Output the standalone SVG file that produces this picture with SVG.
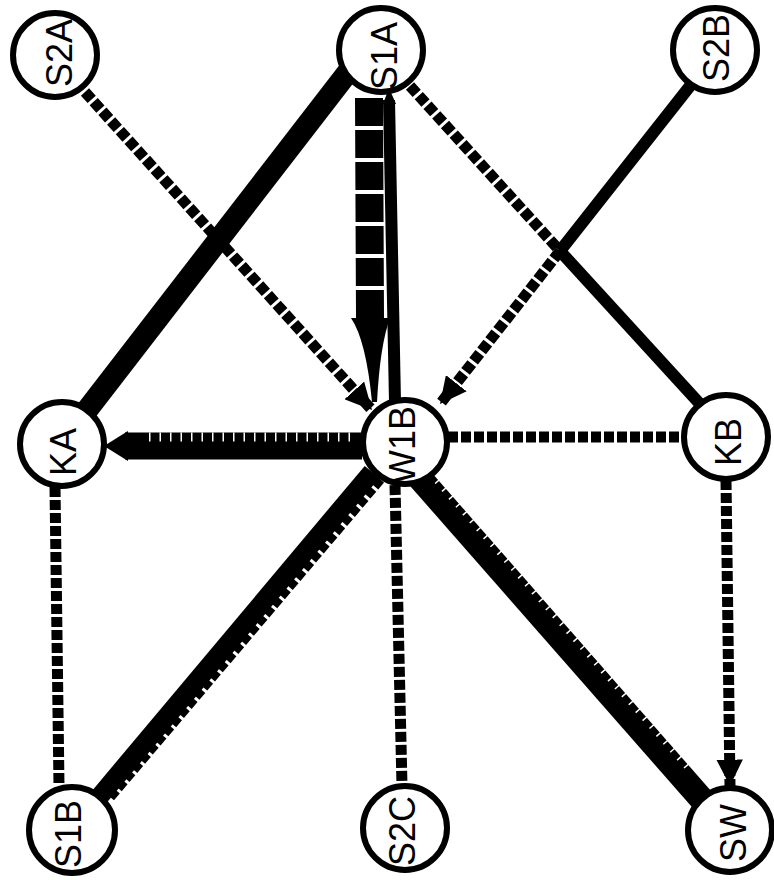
<svg xmlns="http://www.w3.org/2000/svg" width="774" height="880" viewBox="0 0 774 880">
<style>
.node circle{fill:#fff;stroke:#000;stroke-width:6}
.node text{font-family:"Liberation Sans",Arial,sans-serif;font-size:36px;fill:#000;text-anchor:middle;dominant-baseline:central}
.e{fill:none;stroke:#000;stroke-linecap:butt}
.d{stroke-width:11;stroke-dasharray:10 3}
.s{stroke-width:12}
.tick{fill:none;stroke:#fff;stroke-width:9;stroke-dasharray:1.5 9}
</style>
<defs>
<marker id="ah" viewBox="0 0 10 10" refX="10" refY="5" markerWidth="2.4" markerHeight="2.4" orient="auto" markerUnits="strokeWidth">
<path d="M0,0 L10,5 L0,10 Z" fill="#000"/>
</marker>
</defs>
<rect width="774" height="880" fill="#fff"/>
<g id="connectors">
<!-- S2A -> WIB -->
<path class="e d" d="M85,92 L372,410" marker-end="url(#ah)"/>
<!-- S1A - KA thick solid -->
<path class="e" stroke-width="22" d="M348,72 L84,414"/>
<!-- S1A -> WIB big dashed with arrowhead -->
<path class="e" stroke-width="28" stroke-dasharray="28 4" d="M369,98 L370,318"/>
<path d="M351,318 L390,318 Q380,345 377,402 L372,402 Q366,340 351,318 Z" fill="#000"/>
<!-- WIB -> S1A solid -->
<path class="e s" d="M395,402 L389,100"/>
<path d="M383,104 L389,88 L396,104 Z" fill="#000"/>
<!-- S1A - KB (dashed then solid) -->
<path class="e d" d="M410,86 L560,251"/>
<path class="e s" d="M560,251 L700,404"/>
<!-- S2B - WIB (solid then dashed) -->
<path class="e s" d="M690,86 L560,251"/>
<path class="e d" d="M560,251 L440,404" marker-end="url(#ah)"/>
<!-- WIB -> KA thick -->
<path class="e" stroke-width="27" d="M362,446 L125,446"/>
<path class="tick" d="M350,437 L140,437"/>
<path d="M128,431 L104,446 L128,461 Z" fill="#000"/>
<!-- WIB - KB dashed -->
<path class="e d" d="M448,437 L684,437"/>
<!-- KA - S1B dashed -->
<path class="e d" d="M55,487 L59,786"/>
<!-- WIB -> S1B thick + dashed -->
<path class="e" stroke-width="19" d="M372,472 L100,796"/>
<path class="e" stroke-width="8" stroke-dasharray="9 3" d="M381,480 L109,800"/>
<!-- WIB - S2C dashed -->
<path class="e d" d="M395,485 L402,786"/>
<!-- WIB -> SW thick -->
<path class="e" stroke-width="25" d="M418,476 L705,803"/>
<path class="tick" d="M438,480 L690,768"/>
<!-- KB -> SW dashed -->
<path class="e d" d="M726,480 L730,786" marker-end="url(#ah)"/>
</g>
<g id="S2A" class="node"><circle cx="55" cy="55" r="42"/><text transform="translate(59,53) rotate(-90)">S2A</text></g>
<g id="S1A" class="node"><circle cx="381" cy="50" r="42"/><text transform="translate(384,56) rotate(-90)">S1A</text></g>
<g id="S2B" class="node"><circle cx="715" cy="50" r="42"/><text transform="translate(716,48) rotate(-90)">S2B</text></g>
<g id="KA" class="node"><circle cx="62" cy="444" r="42"/><text transform="translate(63,452) rotate(-90)">KA</text></g>
<g id="W1B" class="node"><circle cx="405" cy="442" r="42"/><text transform="translate(402,445) rotate(-90)">W1B</text></g>
<g id="KB" class="node"><circle cx="726" cy="437" r="42"/><text transform="translate(728,442) rotate(-90)">KB</text></g>
<g id="S1B" class="node"><circle cx="72" cy="830" r="43"/><text transform="translate(68,834) rotate(-90)">S1B</text></g>
<g id="S2C" class="node"><circle cx="405" cy="828" r="42"/><text transform="translate(402,831) rotate(-90)">S2C</text></g>
<g id="SW" class="node"><circle cx="730" cy="830" r="42"/><text transform="translate(733,833) rotate(-90)">SW</text></g>
</svg>
